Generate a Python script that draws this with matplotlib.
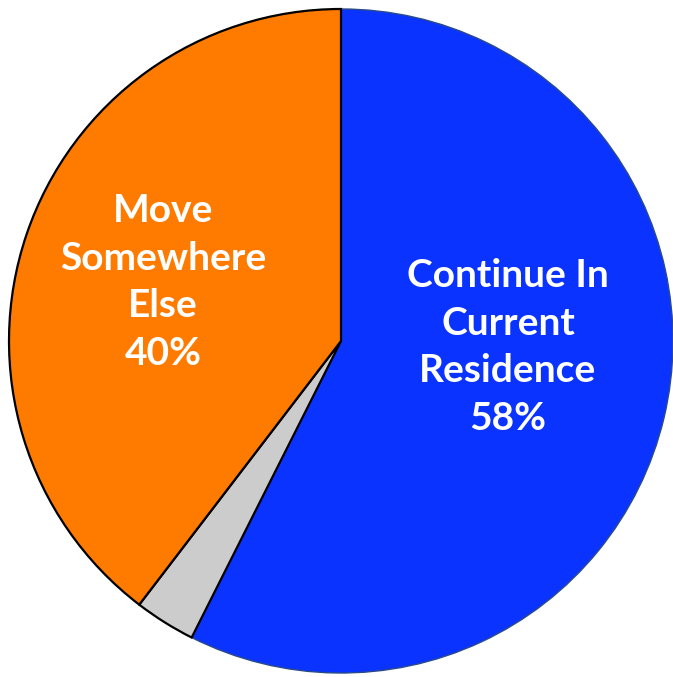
import matplotlib.pyplot as plt

# data
labels = ["Continue In\nCurrent\nResidence\n58%", "", "Move\nSomewhere\nElse\n40%"]
values = [58, 3, 40]
colors = ["#0a33ff", "#cccccc", "#ff7b00"]

cx, cy, r = 341, 336, 332

fig = plt.figure(figsize=(6.73, 6.77), dpi=100)
ax = fig.add_axes([0, 0, 1, 1])
wedges, _ = ax.pie(values, colors=colors, startangle=90, counterclock=False,
                   center=(cx, cy), radius=r,
                   wedgeprops=dict(edgecolor="black", linewidth=1.6))
wedges[0].set_edgecolor("#2a4a8a")
wedges[0].set_linewidth(1.0)
wedges[0].set_zorder(0)

# labels
ax.text(cx + 167, cy - 6, labels[0], ha="center", va="center", color="white",
        fontsize=28, fontweight="bold", family="Lato", linespacing=1.43)
ax.text(cx - 178, cy + 59, labels[2], ha="center", va="center", color="white",
        fontsize=28, fontweight="bold", family="Lato", linespacing=1.43)

ax.set_xlim(0, 673)
ax.set_ylim(0, 677)
ax.set_aspect("equal")
ax.axis("off")
fig.savefig("out.png", dpi=100)
